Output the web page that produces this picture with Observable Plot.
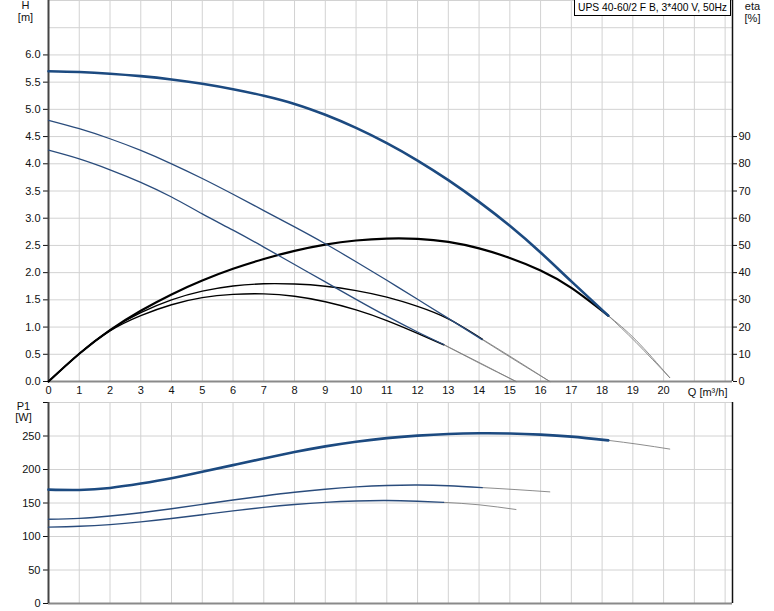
<!DOCTYPE html>
<html>
<head>
<meta charset="utf-8">
<script src="https://cdn.jsdelivr.net/npm/d3@7"></script>
<script src="https://cdn.jsdelivr.net/npm/@observablehq/plot@0.6"></script>
<style>
  body { margin: 0; background: #fff; }
  #c { position: relative; width: 774px; height: 611px; font-family: "Liberation Sans", Arial, sans-serif; }
  #topPanel, #botPanel { position: absolute; left: 0; }
  #topPanel { top: 0; }
  #botPanel { top: 400px; }
  #title { position: absolute; left: 574px; top: -1px; width: 152px; height: 15px; border: 1px solid #000;
           background: #fff; font-size: 10.3px; line-height: 15px; padding-left: 3px; white-space: nowrap; color: #000; overflow: hidden; }
</style>
</head>
<body>
<div id="c">
  <div id="topPanel"></div>
  <div id="botPanel"></div>
  <div id="title">UPS 40-60/2 F B, 3*400 V, 50Hz</div>
</div>
<script>
// ---------- axis ticks ----------
const Q_TICKS = [0,1,2,3,4,5,6,7,8,9,10,11,12,13,14,15,16,17,18,19,20];
const Q_GRID = [0,1,2,3,4,5,6,7,8,9,10,11,12,13,14,15,16,17,18,19,20,21,22];
const H_TICKS = [0,0.5,1,1.5,2,2.5,3,3.5,4,4.5,5,5.5,6];
const H_GRID = [0,0.5,1,1.5,2,2.5,3,3.5,4,4.5,5,5.5,6,6.5,7];
const ETA_TICKS = [0,10,20,30,40,50,60,70,80,90];
const P1_TICKS = [0,50,100,150,200,250];
const P1_GRID = [0,50,100,150,200,250,300];
const Q_DOMAIN = [0, 22.24];
const H_DOMAIN = [0, 7];
const P1_DOMAIN = [0, 300];
const ETA_PER_M = 20; // 10 % on the eta axis = 0.5 m on the H axis

// ---------- head H [m] ----------
const Q_H_MAX = [0,1,2,3,4,5,6,7,8,9,10,11,12,13,14,15,16,17,18.2];
const H_MAX   = [5.70,5.685,5.655,5.61,5.55,5.47,5.37,5.25,5.10,4.90,4.66,4.38,4.06,3.70,3.30,2.86,2.37,1.84,1.21];
const Q_H_MAX_EXT = [18.2,19.1,20.2];
const H_MAX_EXT   = [1.21,0.72,0.07];

const Q_H_MID = [0,1,2,3,4,5,6,7,8,9,10,11,12,13,14.1];
const H_MID   = [4.80,4.645,4.46,4.245,4.00,3.73,3.44,3.14,2.84,2.53,2.20,1.86,1.51,1.16,0.77];
const Q_H_MID_EXT = [14.1,15.2,16.3];
const H_MID_EXT   = [0.77,0.38,0.0];

const Q_H_LOW = [0,1,2,3,4,5,6,7,8,9,10,11,12,12.85];
const H_LOW   = [4.25,4.09,3.89,3.66,3.39,3.08,2.78,2.47,2.15,1.83,1.51,1.20,0.91,0.68];
const Q_H_LOW_EXT = [12.85,14,15.2];
const H_LOW_EXT   = [0.68,0.35,0.0];

// ---------- efficiency eta [%] ----------
const Q_ETA_MAX = [0,1,2,3,4,5,6,7,8,9,10,11,12,13,14,15,16,17,18.2];
const ETA_MAX   = [0,10.2,18.9,26.0,32.0,37.1,41.4,45.0,48.0,50.3,51.8,52.5,52.4,51.3,48.9,45.4,40.8,34.4,24.2];
const Q_ETA_MAX_EXT = [18.2,19.1,20.2];
const ETA_MAX_EXT   = [24.2,15.2,1.4];

const Q_ETA_MID = [0,1,2,3,4,5,6,7,8,9,10,11,12,13,14.1];
const ETA_MID   = [0,10.2,18.9,25.3,30.0,33.2,35.1,35.9,35.8,35.0,33.4,31.0,27.6,23.0,15.6];
const Q_ETA_MID_EXT = [14.1,15.2,16.3];
const ETA_MID_EXT   = [15.6,7.9,0];

const Q_ETA_LOW = [0,1,2,3,4,5,6,7,8,9,10,11,12,12.85];
const ETA_LOW   = [0,10.2,18.6,24.2,28.2,30.8,32.0,32.2,31.3,29.3,26.3,22.4,17.7,13.5];
const Q_ETA_LOW_EXT = [12.85,14,15.2];
const ETA_LOW_EXT   = [13.5,6.8,0];

// ---------- power P1 [W] ----------
const Q_P_MAX = [0,1,2,3,4,5,6,7,8,9,10,11,12,13,14,15,16,17,18.2];
const P_MAX   = [170,169.5,172.5,179,187,196.5,206.5,216.5,226,234.5,241.5,246.8,250.5,253,254,253.7,252,249,243.5];
const Q_P_MAX_EXT = [18.2,19.2,20.2];
const P_MAX_EXT   = [243.5,237.5,230.5];

const Q_P_MID = [0,1,2,3,4,5,6,7,8,9,10,11,12,13,14.1];
const P_MID   = [125.7,127,130.5,135.5,141.5,148,154.5,160.5,166,170.5,174,176.2,176.8,175.8,173];
const Q_P_MID_EXT = [14.1,15.2,16.3];
const P_MID_EXT   = [173,170,166.6];

const Q_P_LOW = [0,1,2,3,4,5,6,7,8,9,10,11,12,12.85];
const P_LOW   = [114,115.2,117.8,121.8,126.8,132.5,138.3,143.5,147.8,151,153,153.7,152.6,151];
const Q_P_LOW_EXT = [12.85,14,15.2];
const P_LOW_EXT   = [151,147.3,140.3];

const pts = (qs, vs) => qs.map((q, i) => ({q, v: vs[i]}));

const FONT = "'Liberation Sans', Arial, sans-serif";
const GRID = "#d2d2d2";
const BLUE = "#1c4a80";
const BLUE2 = "#2a4c7c";
const THIN = "#808080";
const curve = "natural";

const lineH = (data, w, c) => Plot.line(data, {x: "q", y: "v", stroke: c, strokeWidth: w, curve});
const lineE = (data, w, c) => Plot.line(data, {x: "q", y: d => d.v / ETA_PER_M, stroke: c, strokeWidth: w, curve});

const chartTop = Plot.plot({
  width: 774, height: 400,
  marginLeft: 48, marginRight: 42, marginTop: 0, marginBottom: 19,
  style: {fontFamily: FONT, fontSize: "11px", color: "#111", background: "#fff", overflow: "visible"},
  x: {domain: Q_DOMAIN},
  y: {domain: H_DOMAIN},
  marks: [
    Plot.gridX(Q_GRID, {stroke: GRID, strokeOpacity: 1}),
    Plot.gridY(H_GRID, {stroke: GRID, strokeOpacity: 1}),
    Plot.axisX(Q_TICKS, {tickSize: 0, tickPadding: 5, label: null}),
    Plot.axisY(H_TICKS, {tickSize: 5, tickPadding: 3, tickFormat: d => d.toFixed(1), label: null}),
    Plot.axisY(ETA_TICKS.map(e => e / ETA_PER_M), {anchor: "right", tickSize: 4, tickPadding: 2,
      tickFormat: d => String(Math.round(d * ETA_PER_M)), label: null}),
    Plot.ruleY([H_DOMAIN[0]], {stroke: "#8a8a8a", strokeWidth: 2}),
    Plot.ruleX([Q_DOMAIN[0]], {stroke: "#444", strokeWidth: 2}),
    Plot.ruleX([Q_DOMAIN[1]], {stroke: "#111", strokeWidth: 1.5}),
    // extensions (thin)
    lineH(pts(Q_H_MAX_EXT, H_MAX_EXT), 0.9, THIN),
    lineH(pts(Q_H_MID_EXT, H_MID_EXT), 0.9, THIN),
    lineH(pts(Q_H_LOW_EXT, H_LOW_EXT), 0.9, THIN),
    lineE(pts(Q_ETA_MAX_EXT, ETA_MAX_EXT), 0.9, THIN),
    lineE(pts(Q_ETA_MID_EXT, ETA_MID_EXT), 0.9, THIN),
    lineE(pts(Q_ETA_LOW_EXT, ETA_LOW_EXT), 0.9, THIN),
    // eta
    lineE(pts(Q_ETA_LOW, ETA_LOW), 1.4, "#000"),
    lineE(pts(Q_ETA_MID, ETA_MID), 1.4, "#000"),
    lineE(pts(Q_ETA_MAX, ETA_MAX), 2.2, "#000"),
    // H
    lineH(pts(Q_H_LOW, H_LOW), 1.3, BLUE2),
    lineH(pts(Q_H_MID, H_MID), 1.3, BLUE2),
    lineH(pts(Q_H_MAX, H_MAX), 2.6, BLUE),
    // axis titles
    Plot.text(["H"], {frameAnchor: "top-left", textAnchor: "middle", lineAnchor: "middle", dx: -23, dy: 5}),
    Plot.text(["[m]"], {frameAnchor: "top-left", textAnchor: "middle", lineAnchor: "middle", dx: -23, dy: 17}),
    Plot.text(["eta"], {frameAnchor: "top-right", textAnchor: "middle", lineAnchor: "middle", dx: 20, dy: 6}),
    Plot.text(["[%]"], {frameAnchor: "top-right", textAnchor: "middle", lineAnchor: "middle", dx: 20, dy: 18}),
    Plot.text(["Q [m³/h]"], {frameAnchor: "bottom-right", textAnchor: "end", lineAnchor: "middle", dx: -5, dy: 11})
  ]
});
document.getElementById("topPanel").append(chartTop);

const lineP = (data, w, c) => Plot.line(data, {x: "q", y: "v", stroke: c, strokeWidth: w, curve});

const chartBot = Plot.plot({
  width: 774, height: 211,
  marginLeft: 48, marginRight: 42, marginTop: 2, marginBottom: 8,
  style: {fontFamily: FONT, fontSize: "11px", color: "#111", background: "#fff", overflow: "visible"},
  x: {domain: Q_DOMAIN, axis: null},
  y: {domain: P1_DOMAIN},
  marks: [
    Plot.gridX(Q_GRID, {stroke: GRID, strokeOpacity: 1}),
    Plot.gridY(P1_GRID, {stroke: GRID, strokeOpacity: 1}),
    Plot.axisY(P1_GRID, {tickSize: 5, tickPadding: 3, label: null,
      tickFormat: d => P1_TICKS.includes(d) ? String(d) : ""}),
    Plot.ruleY([P1_DOMAIN[0]], {stroke: "#8a8a8a", strokeWidth: 2}),
    Plot.ruleX([Q_DOMAIN[0]], {stroke: "#444", strokeWidth: 2}),
    Plot.ruleX([Q_DOMAIN[1]], {stroke: "#111", strokeWidth: 1.5}),
    lineP(pts(Q_P_MAX_EXT, P_MAX_EXT), 0.9, THIN),
    lineP(pts(Q_P_MID_EXT, P_MID_EXT), 0.9, THIN),
    lineP(pts(Q_P_LOW_EXT, P_LOW_EXT), 0.9, THIN),
    lineP(pts(Q_P_LOW, P_LOW), 1.4, BLUE2),
    lineP(pts(Q_P_MID, P_MID), 1.4, BLUE2),
    lineP(pts(Q_P_MAX, P_MAX), 2.6, BLUE),
    Plot.text(["P1"], {frameAnchor: "top-left", textAnchor: "middle", lineAnchor: "middle", dx: -25, dy: 4}),
    Plot.text(["[W]"], {frameAnchor: "top-left", textAnchor: "middle", lineAnchor: "middle", dx: -25, dy: 15})
  ]
});
document.getElementById("botPanel").append(chartBot);
</script>
</body>
</html>
